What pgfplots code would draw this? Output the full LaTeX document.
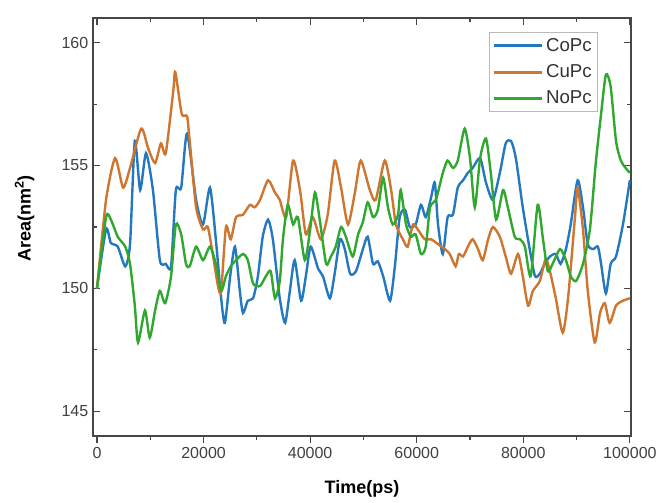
\documentclass[border=0pt]{standalone}
\usepackage{pgfplots}
\pgfplotsset{compat=1.18}
\usepackage{fontspec}
\setmainfont{Liberation Sans}
\definecolor{cblue}{RGB}{36,120,192}
\definecolor{corange}{RGB}{206,118,48}
\definecolor{cgreen}{RGB}{48,168,48}
\definecolor{axgray}{RGB}{70,70,70}

\pgfplotstableread{
x y
0 150
1700 152.4
2600 151.85
3900 151.7
5300 150.9
6200 151.8
7100 156.0
8100 154.0
9200 155.5
10500 154.0
11800 151.15
12900 151.0
13900 150.9
14800 154.0
15800 154.1
16900 156.3
18600 153.6
19900 152.6
21200 154.1
22300 152.0
23300 149.6
24000 148.6
25000 150.5
25900 151.7
26800 149.9
27400 149.0
28300 149.5
29300 149.6
30200 150.5
31100 152.1
32100 152.8
33000 152.0
34300 149.6
35300 148.6
36200 149.9
37100 151.15
38300 149.5
39200 150.5
40100 151.7
41500 150.8
42400 150.5
43700 149.6
44600 150.6
45600 152.0
46500 151.6
47500 150.6
48600 150.7
49900 151.6
50800 152.1
51800 151.0
52700 151.1
53700 150.5
55000 149.5
55900 150.9
56800 152.9
57800 153.2
58700 152.5
59800 152.6
60800 153.4
61700 152.9
62700 153.7
63400 154.3
64000 152.6
64900 151.4
65800 152.9
66800 153.0
67700 154.1
68700 154.4
69600 154.7
70500 154.9
71900 155.3
73000 154.3
74300 153.6
75600 154.7
76700 155.9
77700 156.0
78600 155.3
79900 153.3
81200 151.6
82200 150.5
83100 150.6
84000 151.0
85000 151.3
86100 151.4
87000 151.0
88000 151.6
88900 152.6
90200 154.4
91200 153.3
92100 151.8
93100 151.6
94000 151.7
94600 151.0
95500 149.8
96400 151.0
97400 151.3
98700 152.6
100000 154.4
}\copc

\pgfplotstableread{
x y
0 150
1700 153.6
3400 155.3
4900 154.1
6200 154.9
8300 156.5
9600 155.7
10900 155.1
12000 155.9
12900 155.5
14300 158.0
14700 158.8
15900 157.1
16900 157.0
17400 156.0
18600 153.3
19900 152.4
20800 152.5
21800 151.3
22700 150.1
23300 149.9
24200 152.5
25100 152.0
26100 152.9
27400 153.0
28700 153.4
29600 153.3
30600 153.6
32100 154.4
33400 153.9
34300 153.6
35500 152.9
36800 155.2
38100 154.0
39200 152.2
40500 152.9
42000 152.0
43300 153.0
44600 155.2
45800 154.1
47100 152.6
48400 153.9
49500 155.2
51200 154.0
52300 153.6
54000 155.2
55200 154.0
56100 152.6
57400 152.0
58300 151.7
59300 152.6
60200 152.4
61500 152.0
62700 152.0
64000 151.8
65300 151.6
66200 151.4
67300 150.9
67900 151.4
68700 151.3
69600 151.7
70500 152.0
71500 151.6
72400 151.15
73400 152.0
74300 152.5
75600 152.1
76700 151.3
77700 150.6
79000 151.4
79900 150.5
80900 149.3
81800 149.9
83100 150.3
84200 151.2
85000 150.7
86100 149.6
87400 148.2
88400 149.6
89700 152.9
90200 154.1
91200 152.4
92100 149.9
93400 147.8
94400 149.0
95300 149.4
96200 148.6
97400 149.3
98700 149.5
100000 149.6
}\cupc

\pgfplotstableread{
x y
0 150
1700 152.9
2600 152.8
3900 152.1
5300 151.7
6200 151.0
7100 149.3
7700 147.8
9000 149.1
9900 148.0
10900 149.1
11800 149.9
12800 149.4
13900 150.5
14800 152.6
15800 152.2
16700 151.0
17400 150.9
18600 151.7
19900 151.15
21200 151.7
22300 151.0
23300 149.9
24200 150.5
25100 150.9
26100 151.15
27400 151.4
28300 151.15
29300 150.2
30600 150.1
31700 150.5
32600 150.7
33400 149.6
34300 150.3
34900 152.0
35800 153.4
36800 152.6
37700 152.9
39000 151.15
40000 152.4
40900 153.9
41800 152.8
43000 151.0
43900 151.3
44800 151.7
45800 152.5
46700 152.1
48000 151.3
49000 152.2
49900 152.7
50800 153.5
51800 152.9
52700 153.2
53700 154.5
54600 153.3
55500 152.6
56500 153.0
57000 154.0
58000 152.6
58900 152.1
59800 152.2
60800 151.4
61700 151.7
62500 153.3
63600 153.6
64900 154.7
65800 155.2
66800 154.9
67700 155.2
69000 156.5
70000 155.3
70900 153.3
71900 155.3
73000 156.1
73900 154.7
74900 152.8
76200 154.0
77100 153.3
78400 152.1
79400 152.0
80300 151.7
81400 150.5
82700 153.4
83700 152.0
84600 150.7
85500 151.0
86900 151.6
88000 151.15
88900 150.5
89900 150.3
91200 151.0
92500 152.4
93600 155.1
94600 157.1
95500 158.7
96400 158.2
97400 156.0
98300 155.2
99200 154.9
100000 154.7
}\nopc

\begin{document}
\begin{tikzpicture}
\pgfplotsset{
  common/.style={
    scale only axis,
    width=403.5pt, height=313.5pt,
    xmin=-750, xmax=100200,
    ymin=144, ymax=161,
    axis line style={axgray, line width=1pt},
    major tick length=5pt,
    minor tick length=3pt,
    every tick/.style={axgray, line width=0.8pt},
    scaled x ticks=false, scaled y ticks=false,
    xticklabel style={/pgf/number format/fixed, /pgf/number format/1000 sep={}},
    /pgf/number format/assume math mode=true,
  }
}
\begin{axis}[common,
  xtick={0,20000,40000,60000,80000,100000},
  minor xtick={10000,30000,50000,70000,90000},
  xtick pos=bottom, xtick align=outside,
  ytick={145,150,155,160},
  minor ytick={147.5,152.5,157.5},
  ytick align=inside,
  xticklabels={0,20000,40000,60000,80000,100000},
  xticklabel style={font=\fontsize{12}{14}\selectfont, text=black!75},
  yticklabel style={font=\fontsize{12}{14}\selectfont, text=black!75},
  xlabel={Time(ps)},
  ylabel={Area(nm\textsuperscript{2})},
  xlabel style={font=\fontsize{13.5}{16}\selectfont\bfseries, at={(axis description cs:0.5,0)}, yshift=-40pt, anchor=center},
  ylabel style={font=\fontsize{13.5}{16}\selectfont\bfseries, at={(axis description cs:-0.127,0.52)}, anchor=center},
  legend style={at={(0.939,0.967)}, anchor=north east, draw=gray!55, fill=white,
    font=\fontsize{14}{16}\selectfont, text=black!80, row sep=4.5pt, inner sep=2.5pt, line width=0.6pt},
  legend cell align=left,
  legend image code/.code={\draw[#1, line width=2.2pt] (0pt,0pt) -- (36pt,0pt);},
]
\addplot[cblue, line width=1.8pt, smooth, tension=0.4] table {\copc};
\addlegendentry{CoPc}
\addplot[corange, line width=1.8pt, smooth, tension=0.4] table {\cupc};
\addlegendentry{CuPc}
\addplot[cgreen, line width=1.8pt, smooth, tension=0.4] table {\nopc};
\addlegendentry{NoPc}
\end{axis}
\begin{axis}[common,
  axis x line*=top, hide y axis,
  xtick={0,20000,40000,60000,80000,100000},
  minor xtick={10000,30000,50000,70000,90000},
  xtick align=inside, xticklabels={}, yticklabels={},
]
\end{axis}
\path (-69.75pt,-50.25pt) rectangle (426pt,327pt);
\end{tikzpicture}
\end{document}
